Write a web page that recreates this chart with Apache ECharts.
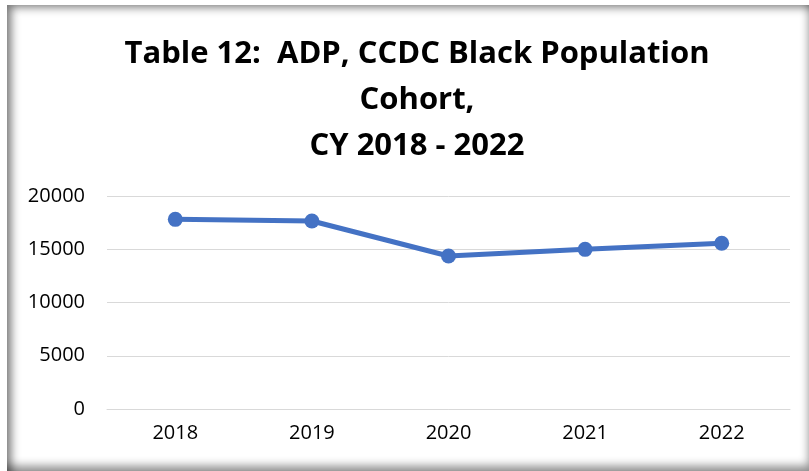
<!DOCTYPE html>
<html>
<head>
<meta charset="utf-8">
<script src="https://cdn.jsdelivr.net/npm/echarts@6/dist/echarts.min.js"></script>
<style>
  html, body { margin: 0; padding: 0; background: #fff; }
  #frame {
    position: absolute; left: 7px; top: 5px; width: 802px; height: 466px;
    box-shadow: inset 9px 7px 10px -5px rgba(0,0,0,0.55), inset -5px -10px 10px -5px rgba(0,0,0,0.45);
  }
  #main { position: absolute; left: 0; top: 0; width: 809px; height: 471px; }
</style>
</head>
<body>
<div id="frame"></div>
<div id="main"></div>
<script>
// chart data
const years = ["2018", "2019", "2020", "2021", "2022"];
const adp = [17810, 17650, 14370, 14990, 15560];
const titleLines = ["Table 12:  ADP, CCDC Black Population", "Cohort,", "CY 2018 - 2022"];

const chart = echarts.init(document.getElementById("main"));

chart.setOption({
  backgroundColor: "transparent",
  animation: false,
  title: {
    text: titleLines.join("\n"),
    left: 412,
    textAlign: "center",
    top: 26,
    textStyle: {
      fontFamily: "Open Sans",
      fontWeight: "bold",
      fontSize: 31,
      lineHeight: 46,
      color: "#000",
    },
  },
  grid: { left: 107, right: 19, top: 196, bottom: 62 },
  xAxis: {
    type: "category",
    data: years,
    boundaryGap: true,
    axisLine: { show: true, lineStyle: { color: "#d9d9d9", width: 1 } },
    axisTick: { show: false },
    axisLabel: { color: "#000", fontFamily: "Open Sans", fontSize: 20, margin: 14 },
  },
  yAxis: {
    type: "value",
    min: 0,
    max: 20000,
    interval: 5000,
    axisLine: { show: false },
    axisTick: { show: false },
    splitLine: { lineStyle: { color: "#d9d9d9", width: 1 } },
    axisLabel: {
      color: "#000", fontFamily: "Open Sans", fontSize: 20, margin: 22,
      formatter: (v) => String(v),
    },
  },
  series: [
    {
      type: "line",
      data: adp,
      symbol: "circle",
      symbolSize: 15,
      lineStyle: { color: "#4472C4", width: 5 },
      itemStyle: { color: "#4472C4" },
    },
  ],
});
</script>
</body>
</html>
